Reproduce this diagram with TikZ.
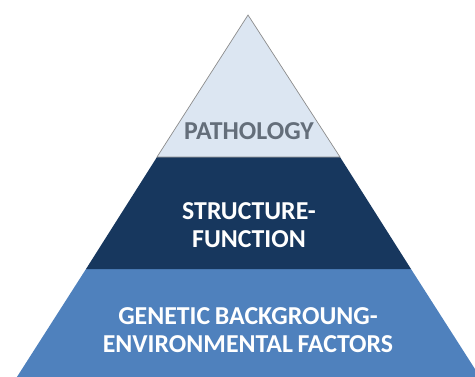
\documentclass[tikz,border=0pt]{standalone}
\usepackage{fontspec}
\setmainfont{Carlito}
\definecolor{toplayer}{RGB}{220,230,242}
\definecolor{midlayer}{RGB}{23,55,94}
\definecolor{baselayer}{RGB}{79,129,189}
\definecolor{toptext}{RGB}{100,110,122}
\definecolor{edgegray}{RGB}{140,140,140}
\newcommand{\layerfont}{\bfseries\fontsize{14.7}{16}\selectfont\spaceskip=0.18em plus 0.05em\relax}
\begin{document}
\begin{tikzpicture}[
        % --- GENERAL SETTINGS ---
        x=0.02cm, y=-0.02cm, % one unit = one pixel of the reference
        % style for the pyramid layers
        layer/.style={
            draw=none,
            line width=0.4pt
        },
        % style for the layer labels
        label/.style={
            font=\layerfont,
            align=center,
            inner sep=0pt
        }
    ]

    % --- FRAME ---
    \useasboundingbox (0,0) rectangle (475,376);
    \clip (0,0) rectangle (475,376);

    % --- BASE LAYER ---
    \fill[layer, baselayer] (86,269) -- (411,269) -- (482,380) -- (15,380) -- cycle;

    % --- MIDDLE LAYER ---
    \fill[layer, midlayer] (157,157) -- (340,157) -- (411,269) -- (86,269) -- cycle;

    % --- TOP LAYER ---
    \draw[layer, fill=toplayer, draw=edgegray] (157,157) -- (248,15) -- (340,157) -- cycle;

    % Labels
    \node[label, toptext] (pathology) at (249,131) {PATHOLOGY};
    \node[label, white] (structure) at (249,225) {STRUCTURE-\\FUNCTION};
    \node[label, white] (genetic) at (248,330) {GENETIC BACKGROUNG-\\ENVIRONMENTAL FACTORS};

\end{tikzpicture}
\end{document}
